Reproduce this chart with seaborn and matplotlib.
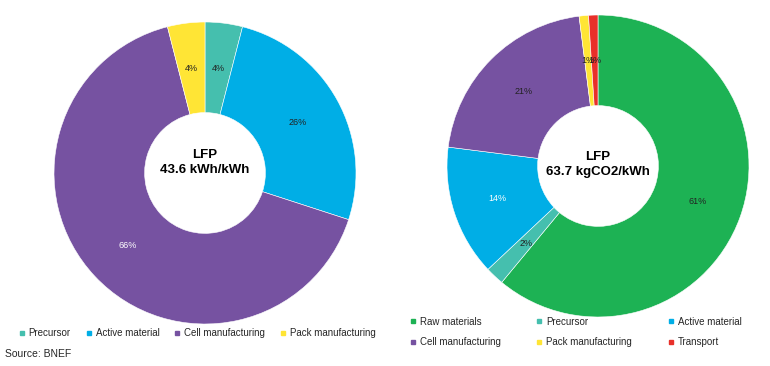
import matplotlib
matplotlib.use("Agg")
import matplotlib.pyplot as plt
from matplotlib.lines import Line2D
import seaborn as sns

sns.set_theme(style="white")
plt.rcParams["font.family"] = ["Liberation Sans", "DejaVu Sans"]

# Data
energy_labels = ["Precursor", "Active material", "Cell manufacturing", "Pack manufacturing"]
energy_share = [4, 26, 66, 4]
energy_title = "LFP\n43.6 kWh/kWh"

co2_labels = ["Raw materials", "Precursor", "Active material",
              "Cell manufacturing", "Pack manufacturing", "Transport"]
co2_share = [61, 2, 14, 21, 1, 1]
co2_title = "LFP\n63.7 kgCO2/kWh"

palette = {
    "Raw materials": "#1db254",
    "Precursor": "#45bfae",
    "Active material": "#00aee6",
    "Cell manufacturing": "#7652a1",
    "Pack manufacturing": "#ffe535",
    "Transport": "#e8302a",
}
energy_text_colors = ["#222222", "#222222", "white", "#222222"]
co2_text_colors = ["#222222", "#222222", "white", "#222222", "#222222", "#222222"]

W, H = 770, 366
fig = plt.figure(figsize=(W / 100, H / 100), dpi=100)


def donut(center, radius, labels, values, text_colors, title, title_y):
    cx, cy = center
    ax = fig.add_axes([(cx - radius) / W, (H - cy - radius) / H, 2 * radius / W, 2 * radius / H])
    wedges, texts, autotexts = ax.pie(
        values,
        colors=[palette[l] for l in labels],
        startangle=90,
        counterclock=False,
        autopct="%.0f%%",
        pctdistance=0.70,
        wedgeprops=dict(width=0.6, edgecolor="white", linewidth=0.4),
        textprops=dict(fontsize=6.5),
    )
    for t, c in zip(autotexts, text_colors):
        t.set_color(c)
    ax.text(0, title_y, title, ha="center", va="center", fontsize=9.5,
            fontweight="bold", color="black", linespacing=1.3)
    ax.set_xlim(-1, 1)
    ax.set_ylim(-1, 1)
    ax.axis("off")
    return ax


donut((205, 173), 151, energy_labels, energy_share, energy_text_colors, energy_title, 0.07)
donut((598, 166), 151, co2_labels, co2_share, co2_text_colors, co2_title, 0.01)


def handle(label):
    return Line2D([], [], marker="s", linestyle="none", markersize=3.5,
                  color=palette[label], label=label)


# Left legend (one row)
fig.legend(handles=[handle(l) for l in energy_labels], ncol=4,
           loc="center left", bbox_to_anchor=(18 / W, 1 - 333 / H),
           frameon=False, fontsize=7, handlelength=0.8, handletextpad=0.3,
           columnspacing=1.45, borderpad=0, borderaxespad=0)

# Right legend (two rows, row-major order)
order = [0, 3, 1, 4, 2, 5]
fig.legend(handles=[handle(co2_labels[i]) for i in order], ncol=3,
           loc="center left", bbox_to_anchor=(409 / W, 1 - 332 / H),
           frameon=False, fontsize=7, handlelength=0.8, handletextpad=0.3,
           columnspacing=3.6, labelspacing=1.05, borderpad=0, borderaxespad=0)

fig.text(5 / W, 1 - 354 / H, "Source: BNEF", ha="left", va="center", fontsize=7.5)

fig.savefig("out.png", dpi=100, facecolor="white")
